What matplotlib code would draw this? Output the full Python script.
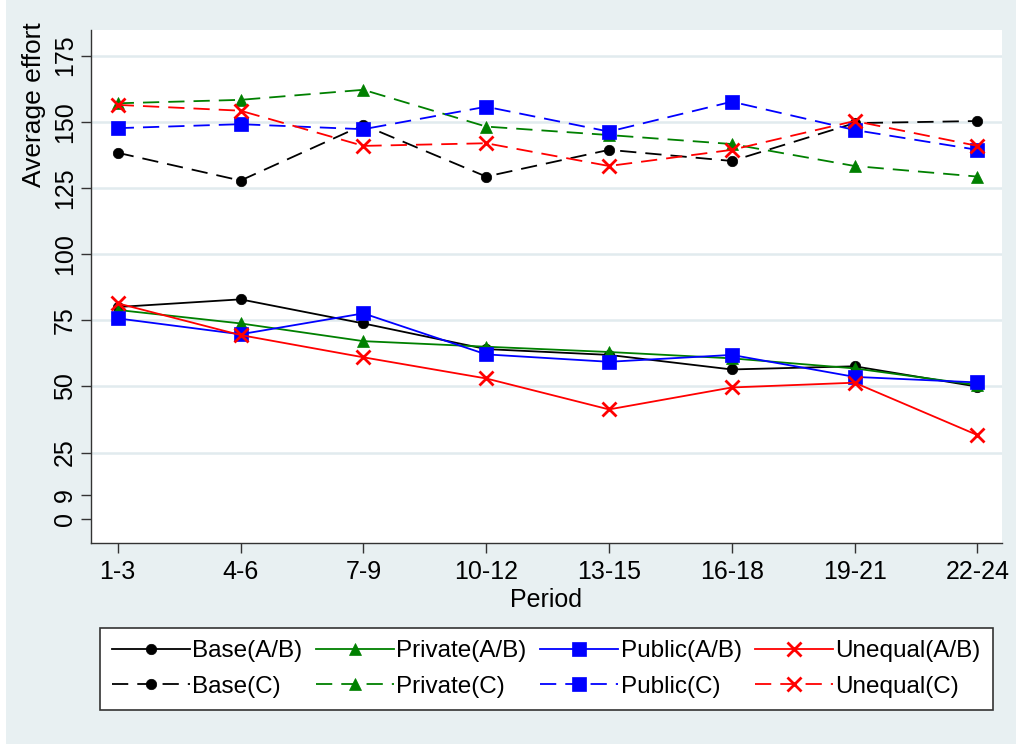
import matplotlib

matplotlib.use('Agg')  # backend to non-interactive
import matplotlib.pyplot as plt
from matplotlib.patches import Rectangle

plt.rcParams['font.family'] = ['Liberation Sans', 'DejaVu Sans']

# Data
periods = ['1-3', '4-6', '7-9', '10-12', '13-15', '16-18', '19-21', '22-24']

base_ab = [80.0, 82.9, 73.8, 64.1, 61.9, 56.4, 57.6, 49.9]
private_ab = [78.9, 73.8, 67.1, 65.0, 63.0, 60.6, 56.8, 50.5]
public_ab = [75.7, 69.7, 77.6, 62.1, 59.3, 61.9, 53.6, 51.5]
unequal_ab = [81.4, 69.4, 61.0, 53.0, 41.3, 49.6, 51.4, 31.6]

base_c = [138.3, 127.8, 148.8, 129.3, 139.4, 135.2, 149.5, 150.3]
private_c = [157.0, 158.3, 162.1, 148.2, 145.0, 141.6, 133.3, 129.3]
public_c = [147.6, 149.1, 147.2, 155.7, 146.3, 157.6, 146.9, 139.4]
unequal_c = [156.4, 154.2, 140.9, 141.9, 133.3, 139.4, 150.3, 140.9]

y_ticks = [0, 9, 25, 50, 75, 100, 125, 150, 175]

bg = '#e8f0f2'
grid_col = '#e1ebee'

fig = plt.figure(figsize=(10.16, 7.44), dpi=100, facecolor=bg)
# thin white strip on the left edge
fig.patches.append(Rectangle((0, 0), 6 / 1016, 1, transform=fig.transFigure,
                             facecolor='white', edgecolor='none', zorder=-1))

ax = fig.add_axes([90.7 / 1016, 1 - 543.3 / 744, 911.3 / 1016, 513.3 / 744])
ax.set_facecolor('white')

x = list(range(len(periods)))
dash = (9, 5)

series = [
    (base_ab, 'Base(A/B)', 'black', 'o', 7.5, '-'),
    (base_c, 'Base(C)', 'black', 'o', 7.5, '--'),
    (private_ab, 'Private(A/B)', '#008000', '^', 9, '-'),
    (private_c, 'Private(C)', '#008000', '^', 9, '--'),
    (public_ab, 'Public(A/B)', '#0000ff', 's', 9.5, '-'),
    (public_c, 'Public(C)', '#0000ff', 's', 9.5, '--'),
    (unequal_ab, 'Unequal(A/B)', '#ff0000', 'x', 10, '-'),
    (unequal_c, 'Unequal(C)', '#ff0000', 'x', 10, '--'),
]

for vals, label, col, mk, ms, ls in series:
    line, = ax.plot(x, vals, color=col, marker=mk, markersize=ms, linestyle=ls,
                    linewidth=1.3, markeredgewidth=2 if mk == 'x' else 0.5,
                    label=label)
    if ls == '--':
        line.set_dashes(dash)

ax.set_xlim(-0.22, 7.2)
ax.set_ylim(-9.3, 184.7)
ax.set_xticks(x)
ax.set_xticklabels(periods)
ax.set_yticks(y_ticks)
ax.set_yticklabels([str(t) for t in y_ticks], rotation=90, va='center')

for t in [25, 50, 75, 100, 125, 150, 175]:
    ax.axhline(t, color=grid_col, linewidth=1.8, zorder=0)

for s in ['top', 'right']:
    ax.spines[s].set_visible(False)
for s in ['left', 'bottom']:
    ax.spines[s].set_color('#333333')
    ax.spines[s].set_linewidth(1.0)

ax.tick_params(axis='both', length=7, width=1, color='#333333',
               labelsize=18)
ax.tick_params(axis='x', pad=5)
ax.tick_params(axis='y', pad=3)

ax.set_xlabel('Period', fontsize=18, labelpad=3)
fig.text(34 / 1016, 1 - 105 / 744, 'Average effort', rotation=90,
         ha='center', va='center', fontsize=19)

leg = ax.legend(ncol=4, loc='center', mode='expand',
                bbox_to_anchor=(100 / 1016, 1 - 711 / 744, 893 / 1016, 84 / 744),
                bbox_transform=fig.transFigure, borderaxespad=0, fontsize=17.5,
                handlelength=3.2, handletextpad=0.1, columnspacing=0.5,
                labelspacing=0.55, borderpad=0.5, fancybox=False,
                framealpha=1, edgecolor='#333333')
leg.get_frame().set_linewidth(1.2)

plt.savefig('out.png', dpi=100, facecolor=bg)
plt.close()
